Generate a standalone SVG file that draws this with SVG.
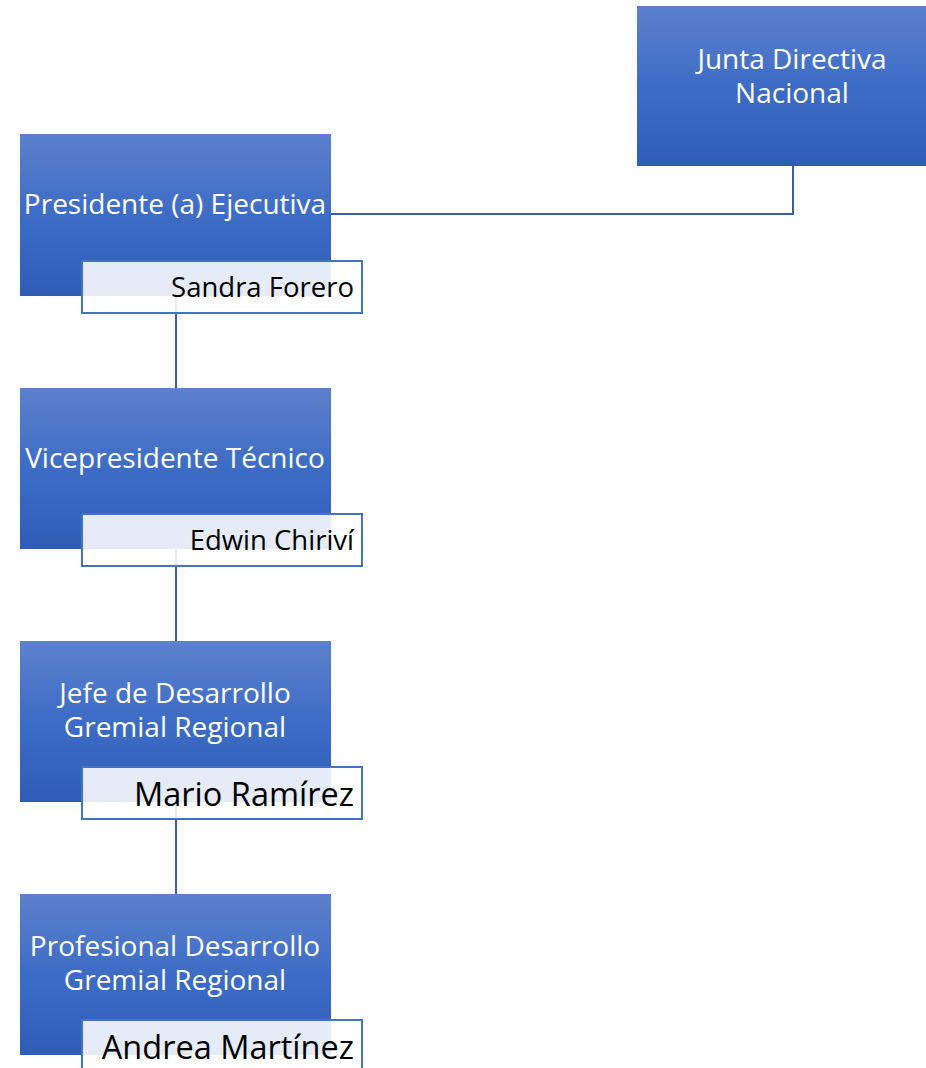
<svg xmlns="http://www.w3.org/2000/svg" width="926" height="1068" viewBox="0 0 926 1068">
<defs>
<linearGradient id="g" x1="0" y1="0" x2="0" y2="1">
<stop offset="0" stop-color="#5c81cc"/>
<stop offset="0.5" stop-color="#3d6cc6"/>
<stop offset="1" stop-color="#2f5db6"/>
</linearGradient>
</defs>
<style>
.box{fill:url(#g);}
.nm{fill:#ffffff;fill-opacity:0.88;stroke:#4472c4;stroke-width:2;}
.t{font-family:"Open Sans","Noto Sans",sans-serif;fill:#ffffff;font-size:28px;text-anchor:middle;}
.n{font-family:"Open Sans","Noto Sans",sans-serif;fill:#000000;text-anchor:end;}
.c{fill:none;stroke:#3a5ea8;stroke-width:2;}
</style>
<rect width="926" height="1068" fill="#ffffff"/>
<g id="connectors">
<polyline class="c" points="793,166 793,214 331,214"/>
<line class="c" x1="176" y1="296" x2="176" y2="388"/>
<line class="c" x1="176" y1="549" x2="176" y2="641"/>
<line class="c" x1="176" y1="802" x2="176" y2="894"/>
</g>
<g id="junta">
<rect class="box" x="637" y="6" width="289" height="160"/>
<text class="t" x="792" y="69">Junta Directiva</text>
<text class="t" x="792" y="103">Nacional</text>
</g>
<g id="presidente">
<rect class="box" x="20" y="134" width="311" height="162"/>
<text class="t" x="175" y="214">Presidente (a) Ejecutiva</text>
<rect class="nm" x="82" y="261" width="280" height="52"/>
<text class="n" x="354" y="297" font-size="27.5">Sandra Forero</text>
</g>
<g id="vicepresidente">
<rect class="box" x="20" y="388" width="311" height="161"/>
<text class="t" x="175" y="468">Vicepresidente Técnico</text>
<rect class="nm" x="82" y="514" width="280" height="52"/>
<text class="n" x="354" y="550" font-size="27.5">Edwin Chiriví</text>
</g>
<g id="jefe">
<rect class="box" x="20" y="641" width="311" height="161"/>
<text class="t" x="175" y="703">Jefe de Desarrollo</text>
<text class="t" x="175" y="737">Gremial Regional</text>
<rect class="nm" x="82" y="767" width="280" height="52"/>
<text class="n" x="354" y="806" font-size="32.5">Mario Ramírez</text>
</g>
<g id="profesional">
<rect class="box" x="20" y="894" width="311" height="161"/>
<text class="t" x="175" y="956">Profesional Desarrollo</text>
<text class="t" x="175" y="990">Gremial Regional</text>
<rect class="nm" x="82" y="1020" width="280" height="60"/>
<text class="n" x="354" y="1059" font-size="32.5">Andrea Martínez</text>
</g>
</svg>
